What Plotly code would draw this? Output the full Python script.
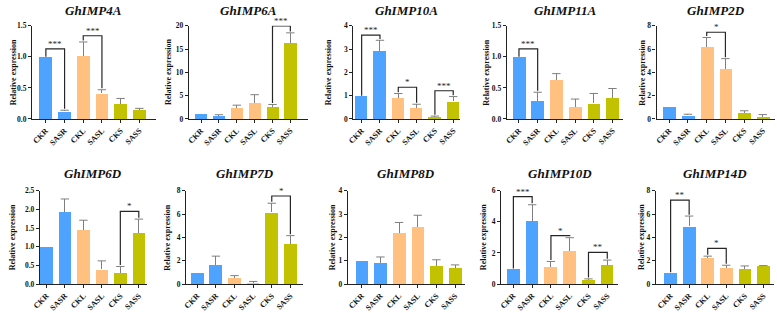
import plotly.graph_objects as go

# ---------------- data ----------------
categories = ["CKR", "SASR", "CKL", "SASL", "CKS", "SASS"]
genes = ["GhIMP4A", "GhIMP6A", "GhIMP10A", "GhIMP11A", "GhIMP2D",
         "GhIMP6D", "GhIMP7D", "GhIMP8D", "GhIMP10D", "GhIMP14D"]

mean_4A = [1.00, 0.12, 1.01, 0.41, 0.24, 0.14]
err_4A = [0.00, 0.02, 0.23, 0.06, 0.09, 0.03]
mean_6A = [1.00, 0.55, 2.35, 3.40, 2.60, 16.40]
err_6A = [0.00, 0.35, 0.60, 1.80, 0.50, 2.10]
mean_10A = [1.00, 2.91, 0.90, 0.46, 0.08, 0.75]
err_10A = [0.00, 0.47, 0.19, 0.17, 0.04, 0.21]
mean_11A = [1.00, 0.29, 0.63, 0.19, 0.25, 0.34]
err_11A = [0.00, 0.14, 0.10, 0.13, 0.16, 0.15]
mean_2D = [1.00, 0.30, 6.20, 4.30, 0.55, 0.20]
err_2D = [0.00, 0.10, 0.80, 0.88, 0.15, 0.17]
mean_6D = [1.00, 1.93, 1.45, 0.39, 0.30, 1.37]
err_6D = [0.00, 0.35, 0.26, 0.23, 0.17, 0.37]
mean_7D = [1.00, 1.64, 0.50, 0.08, 6.15, 3.45]
err_7D = [0.00, 0.75, 0.22, 0.14, 0.78, 0.70]
mean_8D = [1.00, 0.90, 2.20, 2.44, 0.77, 0.68]
err_8D = [0.00, 0.26, 0.44, 0.51, 0.27, 0.14]
mean_10D = [1.00, 4.06, 1.12, 2.15, 0.25, 1.25]
err_10D = [0.00, 1.04, 0.33, 0.83, 0.08, 0.29]
mean_14D = [1.00, 4.94, 2.22, 1.36, 1.33, 1.53]
err_14D = [0.00, 0.89, 0.17, 0.25, 0.22, 0.05]

means = [mean_4A, mean_6A, mean_10A, mean_11A, mean_2D,
         mean_6D, mean_7D, mean_8D, mean_10D, mean_14D]
errs = [err_4A, err_6A, err_10A, err_11A, err_2D,
        err_6D, err_7D, err_8D, err_10D, err_14D]

# y-axis tick values per panel
yticks = [[0, 0.5, 1.0, 1.5], [0, 5, 10, 15, 20], [0, 1, 2, 3, 4],
          [0, 0.5, 1.0, 1.5], [0, 2, 4, 6, 8], [0, 0.5, 1.0, 1.5, 2.0, 2.5],
          [0, 2, 4, 6, 8], [0, 1, 2, 3, 4], [0, 2, 4, 6], [0, 2, 4, 6, 8]]

# significance brackets: (bar i, bar j, label, bracket level)
sig = [
    [(0, 1, "***", 1.13), (2, 3, "***", 1.34)],
    [(4, 5, "***", 20.0)],
    [(0, 1, "***", 3.60), (2, 3, "*", 1.36), (4, 5, "***", 1.21)],
    [(0, 1, "***", 1.13)],
    [(2, 3, "*", 7.45)],
    [(4, 5, "*", 1.95)],
    [(4, 5, "*", 7.55)],
    [],
    [(0, 1, "***", 5.62), (2, 3, "*", 3.12), (4, 5, "**", 2.04)],
    [(0, 1, "**", 7.20), (2, 3, "*", 3.05)],
]

# ---------------- layout (pixels) ----------------
W, H = 777, 313
# (y-axis x px, x-axis end px, x range left, x range right, y-label x px)
panel_px = [
    (24.3, 149.3, -0.74, 5.88, 5.0),
    (182.7, 303.3, -0.69, 6.00, 162.3),
    (349.0, 456.7, -0.45, 5.37, 323.3),
    (504.0, 621.7, -0.65, 5.58, 483.3),
    (655.3, 775.0, -0.68, 5.65, 641.0),
    (32.3, 140.0, -0.35, 5.42, 4.0),
    (180.0, 298.3, -0.60, 5.69, 161.0),
    (343.3, 461.7, -0.75, 5.53, 327.3),
    (498.3, 616.7, -0.65, 5.59, 480.7),
    (654.7, 773.7, -0.79, 5.56, 640.3),
]
row_px = [(22.5, 118.3, 7.0), (192.3, 288.3, 175.0)]  # top, bottom, title center

colors = ["#4da3ff", "#4da3ff", "#ffc080", "#ffc080", "#c2c200", "#c2c200"]
err_color = "#7f7f7f"
line_color = "#262626"
serif = "Liberation Serif, Times New Roman, serif"

fig = go.Figure()
annotations = []
layout_axes = {}

for k in range(10):
    ax = "" if k == 0 else str(k + 1)
    xa, ya = "x" + ax, "y" + ax
    x0, x1, rl, rr, lab_x = panel_px[k]
    row = 0 if k < 5 else 1
    top, bot, tcy = row_px[row]
    m, e = means[k], errs[k]
    ymax = yticks[k][-1]

    fig.add_trace(go.Bar(
        x=list(range(6)), y=m, width=0.68,
        marker=dict(color=colors, line=dict(width=0)),
        error_y=dict(type="data", array=e, arrayminus=[0] * 6, symmetric=False,
                     color=err_color, thickness=1, width=0),
        xaxis=xa, yaxis=ya, showlegend=False, hoverinfo="skip"))
    # error bar caps
    fig.add_trace(go.Scatter(
        x=[i for i in range(6) if e[i] > 0],
        y=[m[i] + e[i] for i in range(6) if e[i] > 0],
        mode="markers",
        marker=dict(symbol="line-ew", size=6, line=dict(color=err_color, width=1)),
        xaxis=xa, yaxis=ya, showlegend=False, hoverinfo="skip"))

    # significance brackets
    for (i, j, lab, lvl) in sig[k]:
        gap = 0.015 * ymax
        yi = m[i] + e[i] + (gap if e[i] > 0 else 0)
        yj = m[j] + e[j] + gap
        fig.add_trace(go.Scatter(
            x=[i, i, j, j], y=[yi, lvl, lvl, yj], mode="lines",
            line=dict(color=line_color, width=1.2),
            xaxis=xa, yaxis=ya, showlegend=False, hoverinfo="skip", cliponaxis=False))
        annotations.append(dict(
            x=(i + j) / 2, y=lvl, xref=xa, yref=ya, text=lab, showarrow=False,
            yanchor="middle", yshift=5,
            font=dict(family=serif, size=9, color=line_color)))

    layout_axes["xaxis" + ax] = dict(
        domain=[x0 / W, x1 / W], anchor=ya, range=[rl, rr],
        tickmode="array", tickvals=list(range(6)), ticktext=categories,
        tickangle=-45, ticks="outside", ticklen=3, tickwidth=1, tickcolor="#222",
        showline=True, linecolor="#222", linewidth=1.2, showgrid=False,
        zeroline=False, fixedrange=True,
        tickfont=dict(family=serif, size=8, color="#111", weight="bold"))
    layout_axes["yaxis" + ax] = dict(
        domain=[1 - bot / H, 1 - top / H], anchor=xa, range=[0, ymax],
        tickmode="array", tickvals=yticks[k],
        tickformat=".1f" if isinstance(yticks[k][1], float) else "d",
        ticks="outside", ticklen=3, tickwidth=1, tickcolor="#222",
        showline=True, linecolor="#222", linewidth=1.2, showgrid=False,
        zeroline=False, fixedrange=True,
        tickfont=dict(family=serif, size=7.5, color="#111", weight="bold"))

    # panel title
    annotations.append(dict(
        x=(x0 + x1) / 2 / W, y=1 - tcy / H, xref="paper", yref="paper",
        text="<b><i>" + genes[k] + "</i></b>", showarrow=False,
        xanchor="center", yanchor="middle",
        font=dict(family=serif, size=13, color="#111")))
    # y-axis label
    annotations.append(dict(
        x=lab_x / W, y=1 - (top + bot) / 2 / H, xref="paper", yref="paper",
        text="<b>Relative expression</b>", showarrow=False, textangle=-90,
        xanchor="center", yanchor="middle",
        font=dict(family=serif, size=8, color="#111")))

fig.update_layout(
    width=W, height=H, autosize=False,
    margin=dict(l=0, r=0, t=0, b=0),
    paper_bgcolor="white", plot_bgcolor="white",
    annotations=annotations, bargap=0, **layout_axes)

fig.write_html("out.html", config={"displayModeBar": False},
               post_script="document.body.style.margin='0';"
                           "document.body.style.overflow='hidden';")
